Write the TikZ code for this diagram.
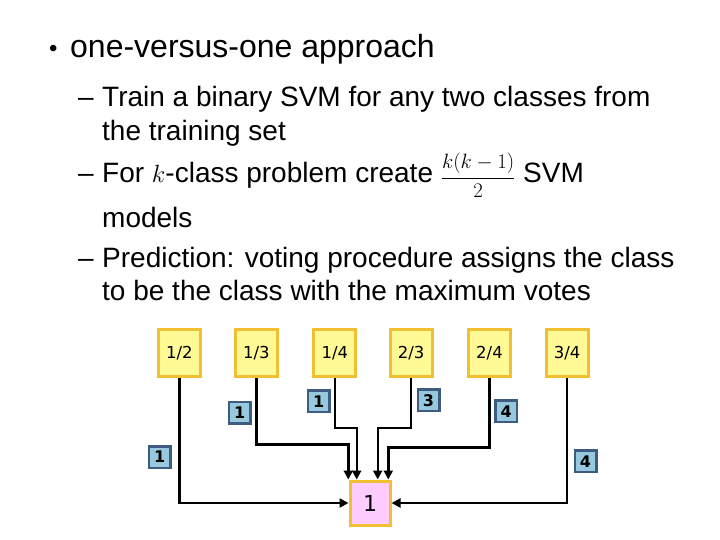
\documentclass[tikz,border=0pt]{standalone}
\usepackage{fontspec}
\setmainfont{Liberation Sans}
\newfontfamily\boxfont{DejaVu Sans}
\usetikzlibrary{arrows.meta}

\definecolor{pairfill}{RGB}{255,250,150}
\definecolor{pairline}{RGB}{240,192,50}
\definecolor{votefill}{RGB}{150,200,222}
\definecolor{voteline}{RGB}{62,92,128}
\definecolor{winfill}{RGB}{255,204,255}

\tikzset{
  headline/.style={anchor=base west, inner sep=0pt, font=\fontsize{32}{38}\selectfont},
  subline/.style={anchor=base west, inner sep=0pt, font=\fontsize{28}{33}\selectfont},
  pair/.style={draw=pairline, fill=pairfill, line width=3pt, minimum width=42pt,
    minimum height=47pt, inner sep=0pt, font=\boxfont\fontsize{16.5}{18}\selectfont},
  vote/.style={draw=voteline, fill=votefill, line width=2.5pt, minimum size=21.5pt,
    inner sep=0pt, font=\boxfont\bfseries\fontsize{16}{18}\selectfont},
  winner/.style={draw=pairline, fill=winfill, line width=3pt, minimum width=40pt,
    minimum height=44pt, inner sep=0pt, font=\boxfont\fontsize{22}{24}\selectfont},
  wire/.style={line width=2.4pt, -{Triangle[length=9pt,width=9pt]}}
}

\begin{document}
\begin{tikzpicture}[x=1pt,y=-1pt]
  \useasboundingbox (0,0) rectangle (720,540);

  % text
  \node[headline, font=\fontsize{24}{28}\selectfont] (dot) at (49,57) {•};
  \node[headline] (t1) at (70,58) {one-versus-one approach};
  \node[subline] (d1) at (78,107) {–};
  \node[subline] (t2) at (102,107) {Train a binary SVM for any two classes from};
  \node[subline] (t3) at (102,141) {the training set};
  \node[subline] (d2) at (78,183) {–};
  \node[subline] (t4) at (102,183) {For $k$-class problem create
    {\fontsize{21}{21}\selectfont$\displaystyle\frac{k(k-1)}{2}$} SVM};
  \node[subline] (t5) at (102,227) {models};
  \node[subline] (d3) at (78,267) {–};
  \node[subline] (t6) at (102,267) {Prediction: voting procedure assigns the class};
  \node[subline] (t7) at (102,300) {to be the class with the maximum votes};

  % classifiers
  \node[pair] (b12) at (179.3,353) {1/2};
  \node[pair] (b13) at (256.3,353) {1/3};
  \node[pair] (b14) at (334.8,353) {1/4};
  \node[pair] (b23) at (411.2,353) {2/3};
  \node[pair] (b24) at (489.5,353) {2/4};
  \node[pair] (b34) at (567.2,353) {3/4};

  \node[winner] (res) at (370,503) {1};

  % votes
  \node[vote] (v12) at (159.8,457) {1};
  \node[vote] (v13) at (239.7,412.5) {1};
  \node[vote] (v14) at (318.7,401.3) {1};
  \node[vote] (v23) at (428.5,400.3) {3};
  \node[vote] (v24) at (506.3,411.3) {4};
  \node[vote] (v34) at (585.5,461.3) {4};

  % wires
  \coordinate (k13) at (348.3,444.3);
  \coordinate (k14) at (356.7,427.7);
  \coordinate (k23) at (377.7,427.7);
  \coordinate (k24) at (388.3,447.3);
  \draw[wire] (b12.south) |- (res.west);
  \draw[wire] (b13.south) |- (k13) -- (k13 |- res.north);
  \draw[wire] (b14.south) |- (k14) -- (k14 |- res.north);
  \draw[wire] (b23.south) |- (k23) -- (k23 |- res.north);
  \draw[wire] (b24.south) |- (k24) -- (k24 |- res.north);
  \draw[wire] (b34.south) |- (res.east);
\end{tikzpicture}
\end{document}
